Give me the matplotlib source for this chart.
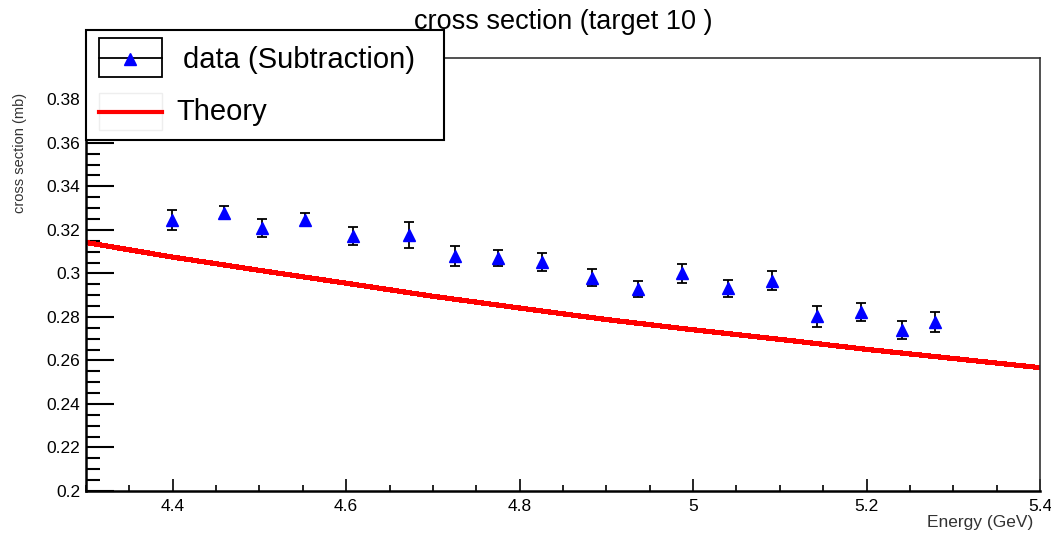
import matplotlib
matplotlib.use("Agg")
import matplotlib.pyplot as plt
from matplotlib.ticker import MultipleLocator, FuncFormatter
from matplotlib.patches import Rectangle
from matplotlib.lines import Line2D

plt.rcParams['font.family'] = ['Liberation Sans', 'DejaVu Sans']

# measured points (data, subtraction method)
energy = [4.399, 4.459, 4.503, 4.553, 4.608, 4.672, 4.726, 4.775, 4.826,
          4.883, 4.936, 4.987, 5.040, 5.091, 5.143, 5.194, 5.241, 5.279]
xsec = [0.3246, 0.3278, 0.3209, 0.3246, 0.3172, 0.3177, 0.3080, 0.3070, 0.3052,
        0.2980, 0.2930, 0.3000, 0.2932, 0.2966, 0.2802, 0.2821, 0.2740, 0.2776]
xsec_err = [0.0045, 0.0030, 0.0040, 0.0030, 0.0040, 0.0060, 0.0045, 0.0037, 0.0040,
            0.0040, 0.0037, 0.0043, 0.0040, 0.0043, 0.0046, 0.0041, 0.0041, 0.0046]

# theory curve
th_energy = [4.3, 4.4, 4.5, 4.6, 4.7, 4.8, 4.9, 5.0, 5.1, 5.2, 5.3, 5.4]
th_xsec = [0.3142, 0.3075, 0.3014, 0.2955, 0.2895, 0.2841, 0.2788, 0.2741,
           0.2697, 0.2651, 0.2609, 0.2567]

W, H = 1051, 534
fig = plt.figure(figsize=(W / 100, H / 100), dpi=100)
ax = fig.add_axes([86 / W, 1 - 491 / H, (1040 - 86) / W, (491 - 58) / H])


def px(x, y):
    return x / W, 1 - y / H


ax.plot(th_energy, th_xsec, color='#ff0000', lw=3, antialiased=False, zorder=2)
ax.errorbar(energy, xsec, yerr=xsec_err, fmt='^', color='#0000ff', ms=9,
            ecolor='black', elinewidth=1.3, capsize=3.5, capthick=1.3, zorder=3)

ax.set_xlim(4.3, 5.4)
ax.set_ylim(0.2, 0.399)

fmt = FuncFormatter(lambda v, p: '%g' % round(v, 3))
ax.xaxis.set_major_locator(MultipleLocator(0.2))
ax.xaxis.set_minor_locator(MultipleLocator(0.05))
ax.yaxis.set_major_locator(MultipleLocator(0.02))
ax.yaxis.set_minor_locator(MultipleLocator(0.005))
ax.xaxis.set_major_formatter(fmt)
ax.yaxis.set_major_formatter(fmt)
ax.tick_params(axis='x', which='major', direction='in', length=9, width=1.2,
               labelsize=12.5, pad=6, top=False)
ax.tick_params(axis='x', which='minor', direction='in', length=4.5, width=1.2, top=False)
ax.tick_params(axis='y', which='major', direction='in', length=20, width=1.5,
               labelsize=12.5, pad=4, right=False)
ax.tick_params(axis='y', which='minor', direction='in', length=10, width=1.5, right=False)
for s in ['left', 'bottom']:
    ax.spines[s].set_linewidth(1.8)
for s in ['top', 'right']:
    ax.spines[s].set_linewidth(1.2)
    ax.spines[s].set_color('#333333')

fig.text(*px(563, 22), 'cross section (target 10 )', fontsize=19.5,
         ha='center', va='center')
fig.text(*px(20, 153), 'cross section (mb)', fontsize=10.5, rotation=90,
         ha='center', va='center', color='#333333')
fig.text(*px(1033, 522), 'Energy (GeV)', fontsize=12.5, ha='right',
         va='center', color='#333333')

# legend drawn by hand (ROOT style)
x0, y0 = px(86, 140)
x1, y1 = px(444, 30)
fig.add_artist(Rectangle((x0, y0), x1 - x0, y1 - y0, transform=fig.transFigure,
                         facecolor='white', edgecolor='black', lw=1.5, zorder=5))
bx0, by0 = px(99, 77)
bx1, by1 = px(162, 38)
fig.add_artist(Rectangle((bx0, by0), bx1 - bx0, by1 - by0, transform=fig.transFigure,
                         facecolor='white', edgecolor='black', lw=1.3, zorder=6))
fig.add_artist(Line2D([bx0, bx1], [px(0, 58)[1]] * 2, transform=fig.transFigure,
                      color='black', lw=1.3, zorder=7))
fig.add_artist(Line2D([px(130, 0)[0]], [px(0, 59)[1]], transform=fig.transFigure,
                      marker='^', ms=9, color='#0000ff', lw=0, zorder=8))
cx0, cy0 = px(99, 130)
cx1, cy1 = px(162, 93)
fig.add_artist(Rectangle((cx0, cy0), cx1 - cx0, cy1 - cy0, transform=fig.transFigure,
                         facecolor='white', edgecolor='#eeeeee', lw=1, zorder=6))
fig.add_artist(Line2D([cx0, cx1], [px(0, 112)[1]] * 2, transform=fig.transFigure,
                      color='#ff0000', lw=3, zorder=7))
fig.text(*px(183, 60), 'data (Subtraction)', fontsize=21, ha='left',
         va='center', zorder=9)
fig.text(*px(176, 112), 'Theory', fontsize=21, ha='left', va='center', zorder=9)

fig.savefig('out.png', dpi=100)
